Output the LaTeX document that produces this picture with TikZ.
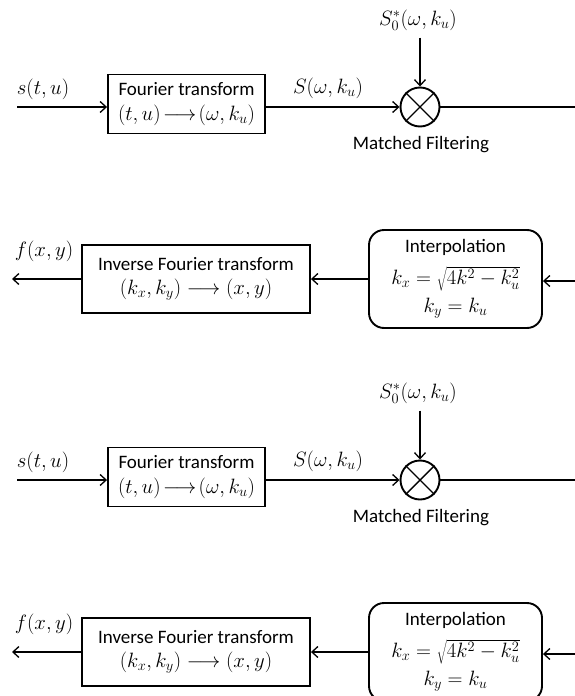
\documentclass[tikz,border=0pt]{standalone}
\usepackage{fontspec}
\setmainfont{Carlito}
\usetikzlibrary{arrows.meta}
\newcommand{\mathtxt}[1]{{\fontsize{20.5}{24}\selectfont$#1$}}
\tikzset{
  blk/.style={draw, line width=1.9pt, align=center, inner sep=0pt},
  rblk/.style={blk, rounded corners=15pt},
  conn/.style={line width=1.4pt},
  arr/.style={conn, -{Straight Barb[length=6pt,width=11pt,line width=1.3pt]}},
  lbl/.style={inner sep=1pt},
  mult/.style={draw, circle, line width=1.9pt, minimum size=39pt, inner sep=0pt},
}
\begin{document}
\begin{tikzpicture}[x=1pt,y=-1pt,font=\fontsize{19}{23}\selectfont]
\useasboundingbox (0,0) rectangle (575,696);
\clip (0,0) rectangle (575,696);
\foreach \i/\dy in {1/0,2/373}{
\begin{scope}[yshift=-\dy pt]
  % top row
  \node[blk, minimum width=157pt, minimum height=59pt] (ft\i) at (186.5,104)
     {Fourier transform\\[2pt] \mathtxt{(t,u)\!\longrightarrow\!(\omega,k_u)}};
  \node[lbl] (st\i) at (43,89) {\mathtxt{s(t,u)}};
  \coordinate (in\i) at (17,107);
  \node[mult] (mf\i) at (420,107) {};
  \draw[conn] (mf\i.north east) -- (mf\i.south west) (mf\i.north west) -- (mf\i.south east);
  \node[lbl] (s0\i) at (418,20) {\mathtxt{S_0^*(\omega,k_u)}};
  \node[lbl] (Sw\i) at (328,88) {\mathtxt{S(\omega,k_u)}};
  \node[lbl] (mfl\i) at (421,145) {Matched Filtering};
  \coordinate (out\i) at (575,107);
  \path (s0\i.south) ++(0,6) coordinate (s0b\i);
  \draw[arr] (in\i) -- (ft\i.west |- in\i);
  \draw[arr] (ft\i.east |- in\i) -- (mf\i.west);
  \draw[arr] (mf\i.north |- s0b\i) -- (mf\i.north);
  \draw[conn] (mf\i.east) -- (out\i);
  % bottom row
  \node[rblk, minimum width=173pt, minimum height=98pt] (ip\i) at (455.5,279)
     {Interpolation\\[9pt] \mathtxt{k_x=\sqrt{4k^2-k_u^2}}\\[5pt] \mathtxt{k_y=k_u}};
  \node[blk, minimum width=228pt, minimum height=68pt] (ift\i) at (196,279)
     {Inverse Fourier transform\\[1pt] \mathtxt{\left(k_x,k_y\right)\longrightarrow(x,y)}};
  \node[lbl] (fx\i) at (44,251) {\mathtxt{f(x,y)}};
  \coordinate (bin\i) at (575,281);
  \coordinate (bout\i) at (12,279);
  \draw[arr] (bin\i) -- (ip\i.east |- bin\i);
  \draw[arr] (ip\i.west) -- (ift\i.east);
  \draw[arr] (ift\i.west) -- (bout\i);
\end{scope}
}
\end{tikzpicture}
\end{document}
